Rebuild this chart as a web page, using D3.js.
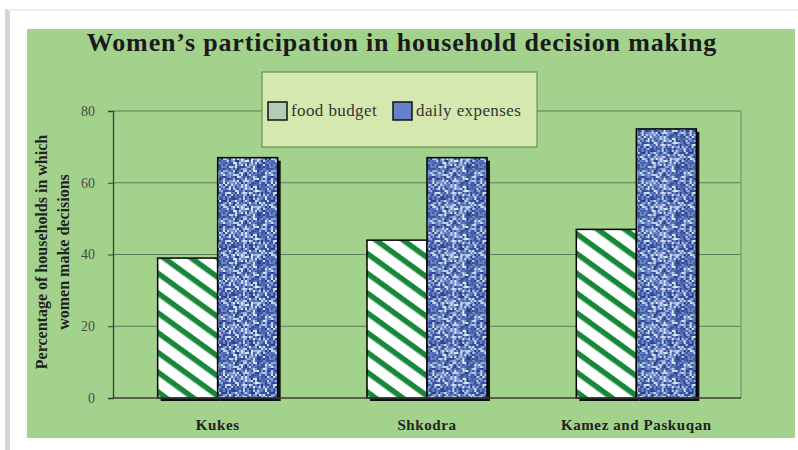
<!DOCTYPE html>
<html>
<head>
<meta charset="utf-8">
<title>Women's participation in household decision making</title>
<script src="https://cdn.jsdelivr.net/npm/d3@7"></script>
<style>
  body { margin: 0; background: #fff; }
  svg { display: block; }
</style>
</head>
<body>
<div id="chart"></div>
<script>
// data
var categories = ["Kukes", "Shkodra", "Kamez and Paskuqan"];
var seriesNames = ["food budget", "daily expenses"];
var foodBudget = [39, 44, 47];
var dailyExpenses = [67, 67, 75];
var yTicks = [0, 20, 40, 60, 80];

var W = 798, H = 450;
var serif = "'Liberation Serif', 'DejaVu Serif', serif";
var plot = {left: 113, right: 741, top: 111, bottom: 398};

var svg = d3.select("#chart").append("svg")
  .attr("width", W).attr("height", H);

var defs = svg.append("defs");

// shadow of the white card
svg.append("rect").attr("x", 5).attr("y", 9).attr("width", 5).attr("height", H)
  .attr("fill", "#d4d4d4");
svg.append("rect").attr("x", 8).attr("y", 9).attr("width", W).attr("height", 2)
  .attr("fill", "#eeeeee");
svg.append("rect").attr("x", 10).attr("y", 11).attr("width", W).attr("height", H)
  .attr("fill", "#ffffff");

// green chart area
svg.append("rect").attr("x", 27).attr("y", 29).attr("width", 768).attr("height", 409)
  .attr("fill", "#a2d28c");

// striped pattern for food budget
var stripes = defs.append("pattern")
  .attr("id", "stripes")
  .attr("patternUnits", "userSpaceOnUse")
  .attr("width", 16).attr("height", 16)
  .attr("patternTransform", "rotate(36)");
stripes.append("rect").attr("width", 16).attr("height", 16).attr("fill", "#ffffff");
stripes.append("rect").attr("width", 16).attr("height", 5.5).attr("fill", "#17883a");

// blue speckled texture for daily expenses (fixed hash, not data)
function hash(a, b) {
  var h = (a * 374761393 + b * 668265263) | 0;
  h = Math.imul(h ^ (h >>> 13), 1274126177);
  return (h ^ (h >>> 16)) >>> 0;
}
var cell = 2, n = 24;
var tex = defs.append("pattern")
  .attr("id", "speckle")
  .attr("patternUnits", "userSpaceOnUse")
  .attr("width", cell * n).attr("height", cell * n);
var blues = ["#273f8c", "#3a56a2", "#4d6ab2", "#6480c0", "#7b93cc", "#9aaedb", "#c3d0ec", "#4763ab", "#6e88c6", "#dde4f4", "#33509c"];
for (var i = 0; i < n; i++) {
  for (var j = 0; j < n; j++) {
    tex.append("rect")
      .attr("x", i * cell).attr("y", j * cell)
      .attr("width", cell).attr("height", cell)
      .attr("fill", blues[hash(i, j) % blues.length]);
  }
}

var patterns = ["url(#stripes)", "url(#speckle)"];

// scales
var x0 = d3.scaleBand().domain(categories).range([plot.left, plot.right]).padding(0);
var x1 = d3.scaleBand().domain(seriesNames).range([0, x0.bandwidth()])
  .paddingInner(0).paddingOuter(0.744);
var y = d3.scaleLinear().domain([0, 80]).range([plot.bottom, plot.top]);

// gridlines
svg.append("g")
  .selectAll("line").data(yTicks.slice(1)).enter().append("line")
  .attr("x1", plot.left).attr("x2", plot.right)
  .attr("y1", function(d) { return y(d); })
  .attr("y2", function(d) { return y(d); })
  .attr("stroke", "#5f7d57").attr("stroke-width", 1);
svg.append("line")
  .attr("x1", plot.right).attr("x2", plot.right)
  .attr("y1", plot.top).attr("y2", plot.bottom)
  .attr("stroke", "#6f8a66").attr("stroke-width", 1);

// y axis
var yAxis = svg.append("g")
  .attr("transform", "translate(" + plot.left + ",0)")
  .call(d3.axisLeft(y).tickValues(yTicks).tickSize(5).tickPadding(13));
yAxis.select(".domain").attr("stroke", "#3d3d3d").attr("stroke-width", 1.3);
yAxis.selectAll(".tick line").attr("stroke", "#3d3d3d");
yAxis.selectAll("text")
  .attr("font-family", serif).attr("font-size", 14).attr("fill", "#4a4a4a");

// bars
var rows = categories.map(function(c, i) {
  return {cat: c, values: [foodBudget[i], dailyExpenses[i]]};
});
var groups = svg.append("g").selectAll("g").data(rows).enter().append("g")
  .attr("transform", function(d) { return "translate(" + x0(d.cat) + ",0)"; });

groups.selectAll(".shadow").data(function(d) { return d.values; }).enter().append("rect")
  .attr("class", "shadow")
  .attr("x", function(d, i) { return x1(seriesNames[i]) + 3; })
  .attr("y", function(d) { return y(d) + 3; })
  .attr("width", x1.bandwidth())
  .attr("height", function(d) { return y(0) - y(d); })
  .attr("fill", "#111");

groups.selectAll(".bar").data(function(d) { return d.values; }).enter().append("rect")
  .attr("class", "bar")
  .attr("x", function(d, i) { return x1(seriesNames[i]); })
  .attr("y", function(d) { return y(d); })
  .attr("width", x1.bandwidth())
  .attr("height", function(d) { return y(0) - y(d); })
  .attr("fill", function(d, i) { return patterns[i]; })
  .attr("stroke", "#000").attr("stroke-width", 1.5);

// x axis baseline and labels
svg.append("line")
  .attr("x1", plot.left).attr("x2", plot.right)
  .attr("y1", plot.bottom).attr("y2", plot.bottom)
  .attr("stroke", "#3d3d3d").attr("stroke-width", 1.3);
svg.append("g").selectAll("text").data(categories).enter().append("text")
  .attr("x", function(d) { return x0(d) + x0.bandwidth() / 2; })
  .attr("y", 430)
  .attr("text-anchor", "middle")
  .attr("font-family", serif).attr("font-size", 15).attr("font-weight", "bold")
  .attr("letter-spacing", 0.6)
  .attr("fill", "#222")
  .text(function(d) { return d; });

// y axis title
var yTitle = svg.append("text")
  .attr("transform", "translate(47,252) rotate(-90)")
  .attr("text-anchor", "middle")
  .attr("font-family", serif).attr("font-size", 16).attr("font-weight", "bold")
  .attr("fill", "#222");
yTitle.append("tspan").attr("x", 0).attr("dy", 0).text("Percentage of households in which");
yTitle.append("tspan").attr("x", 0).attr("dy", 22).text("women make decisions");

// title
svg.append("text")
  .attr("x", 402).attr("y", 51)
  .attr("text-anchor", "middle")
  .attr("font-family", serif).attr("font-size", 26).attr("font-weight", "bold")
  .attr("letter-spacing", 0.85)
  .attr("fill", "#1a1a1a")
  .text("Women\u2019s participation in household decision making");

// legend
var legend = svg.append("g");
legend.append("rect")
  .attr("x", 262).attr("y", 72).attr("width", 275).attr("height", 75)
  .attr("fill", "#d5e8b0").attr("stroke", "#6e8c5e").attr("stroke-width", 1.2);
var legendX = [268, 393];
var legendFill = ["#b4cdb2", "#6781c8"];
var li = legend.selectAll("g").data(seriesNames).enter().append("g")
  .attr("transform", function(d, i) { return "translate(" + legendX[i] + ",102)"; });
li.append("rect")
  .attr("width", 19).attr("height", 18)
  .attr("fill", function(d, i) { return legendFill[i]; })
  .attr("stroke", "#111").attr("stroke-width", 1.5);
li.append("text")
  .attr("x", 23).attr("y", 14)
  .attr("font-family", serif).attr("font-size", 17)
  .attr("letter-spacing", 0.4)
  .attr("fill", "#333")
  .text(function(d) { return d; });
</script>
</body>
</html>
